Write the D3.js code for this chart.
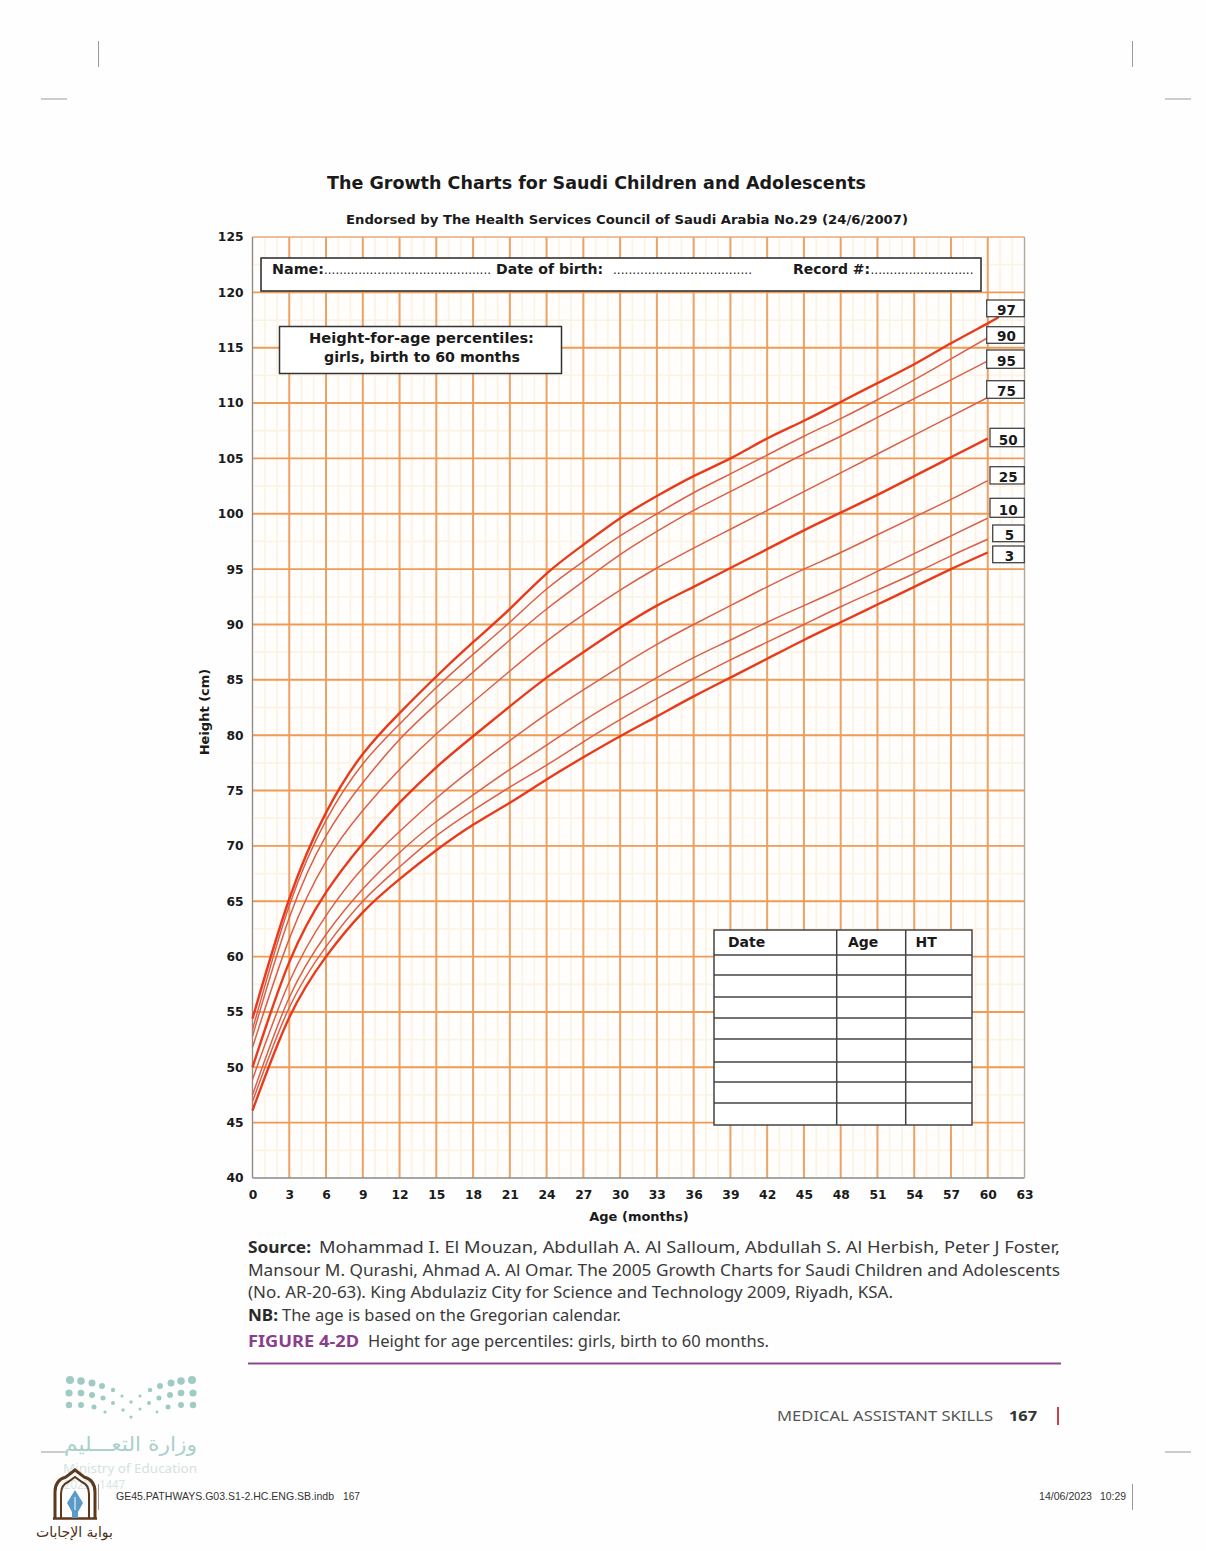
<!DOCTYPE html>
<html><head><meta charset="utf-8">
<script src="https://cdn.jsdelivr.net/npm/d3@7/dist/d3.min.js"></script>
<style>html,body{margin:0;padding:0;background:#fefefe}svg{display:block}</style>
</head><body><svg id="c" width="1206" height="1551"></svg>
<script>
// ---- data ----
const months = [0,3,6,9,12,15,18,21,24,27,30,33,36,39,42,45,48,51,54,57,60,60.9];
const p3  = [46.1,54.5,60.0,64.0,67.0,69.6,71.9,73.9,76.0,78.0,79.9,81.7,83.5,85.2,86.9,88.6,90.2,91.8,93.4,95.0,96.5];
const p5  = [46.9,55.4,60.9,65.0,68.1,70.9,73.2,75.3,77.3,79.4,81.4,83.3,85.1,86.8,88.4,90.0,91.6,93.1,94.6,96.2,97.7];
const p10 = [47.5,56.3,62.0,66.1,69.4,72.2,74.6,76.9,79.1,81.3,83.3,85.2,87.0,88.6,90.2,91.7,93.2,94.8,96.4,98.0,99.6];
const p25 = [48.9,57.7,63.7,68.0,71.3,74.3,77.0,79.5,81.9,84.1,86.2,88.2,90.0,91.7,93.4,95.0,96.5,98.1,99.7,101.3,103.0];
const p50 = [50.0,59.5,65.8,70.2,73.9,77.1,79.9,82.6,85.2,87.5,89.7,91.7,93.4,95.1,96.8,98.5,100.1,101.7,103.4,105.1,106.8];
const p75 = [51.8,61.6,68.6,73.2,76.9,80.1,83.0,85.8,88.5,90.9,93.1,95.1,96.9,98.6,100.3,102.0,103.7,105.4,107.1,108.8,110.5];
const p95 = [52.8,63.5,70.9,75.7,79.6,82.8,85.7,88.6,91.4,93.9,96.3,98.4,100.3,102.0,103.7,105.4,107.0,108.7,110.4,112.1,113.8];
const p90 = [53.4,64.6,72.3,77.4,81.0,84.3,87.3,90.2,93.2,95.7,98.0,100.0,101.9,103.6,105.3,107.0,108.6,110.3,112.1,114.0,115.9];
const p97 = [54.4,65.2,73.0,78.3,82.0,85.3,88.4,91.4,94.6,97.2,99.6,101.6,103.4,105.0,106.8,108.4,110.1,111.8,113.5,115.4,117.2,117.8];
const seriesNames = ["97","90","95","75","50","25","10","5","3"];
const seriesValues = [p97,p90,p95,p75,p50,p25,p10,p5,p3];
const heavySeries = ["97","50","3"];
const xTicks = d3.range(0,64,3);
const yTicks = d3.range(40,126,5);
const minorX = d3.range(0,64,1);
const minorY = d3.range(42.5,125,5);
const tableHeaders = ["Date","Age","HT"];

// ---- layout ----
const svg = d3.select("#c");
const x = d3.scaleLinear().domain([0,63]).range([252.5,1024.5]);
const y = d3.scaleLinear().domain([40,125]).range([1178,237]);
const SANS = "'DejaVu Sans',Verdana,sans-serif", BODY = "'Noto Sans',Roboto,sans-serif", ARIAL="'Liberation Sans',Arial,sans-serif";
function T(px,py,s,o={}){
  const t = svg.append("text").attr("x",px).attr("y",py).text(s)
    .attr("font-family",o.font||SANS).attr("font-size",o.size||13)
    .attr("font-weight",o.weight||"normal").attr("fill",o.fill||"#1a1a1a")
    .attr("text-anchor",o.anchor||"start");
  if(o.len){t.attr("textLength",o.len).attr("lengthAdjust","spacingAndGlyphs");}
  if(o.rotate!==undefined){t.attr("transform",`rotate(${o.rotate} ${px} ${py})`);}
  return t;
}
function R(px,py,w,h,st="#333",sw=1.5){
  return svg.append("rect").attr("x",px).attr("y",py).attr("width",w).attr("height",h)
    .attr("fill","#fff").attr("stroke",st).attr("stroke-width",sw);
}
function L(a,b,c,d,st,sw){
  return svg.append("line").attr("x1",a).attr("y1",b).attr("x2",c).attr("y2",d).attr("stroke",st).attr("stroke-width",sw);
}

// grid
svg.append("rect").attr("x",x(0)).attr("y",y(125)).attr("width",x(63)-x(0)).attr("height",y(40)-y(125)).attr("fill","#fffefc");
const g = svg.append("g");
g.append("g").selectAll("line").data(minorX).join("line")
  .attr("x1",d=>x(d)).attr("x2",d=>x(d)).attr("y1",y(125)).attr("y2",y(40))
  .attr("stroke","#fdf3e4").attr("stroke-width",1.8);
g.append("g").selectAll("line").data(minorY).join("line")
  .attr("x1",x(0)).attr("x2",x(63)).attr("y1",d=>y(d)).attr("y2",d=>y(d))
  .attr("stroke","#fdf3e4").attr("stroke-width",1.8);
g.append("g").selectAll("line").data(xTicks.slice(1,-1)).join("line")
  .attr("x1",d=>x(d)).attr("x2",d=>x(d)).attr("y1",y(125)).attr("y2",y(40))
  .attr("stroke","#eda266").attr("stroke-width",2);
g.append("g").selectAll("line").data(yTicks.slice(1,-1)).join("line")
  .attr("x1",x(0)).attr("x2",x(63)).attr("y1",d=>y(d)).attr("y2",d=>y(d))
  .attr("stroke","#ef9a55").attr("stroke-width",1.9);
L(x(0),y(125),x(63),y(125),"#e9a877",1.3);
L(x(0),y(125),x(0),y(40),"#8a8a8a",1.3);
L(x(0),y(40),x(63),y(40),"#8a8a8a",1.3);
L(x(63),y(125),x(63),y(40),"#b0a8a0",1.3);

// axes
const ax = svg.append("g").attr("transform",`translate(0,${y(40)})`)
  .call(d3.axisBottom(x).tickValues(xTicks).tickSize(0).tickPadding(12).tickFormat(d3.format("d")));
const ay = svg.append("g").attr("transform",`translate(${x(0)},0)`)
  .call(d3.axisLeft(y).tickValues(yTicks).tickSize(0).tickPadding(9).tickFormat(d3.format("d")));
[ax,ay].forEach(a=>{a.select(".domain").remove();
  a.selectAll("text").attr("font-family",SANS).attr("font-weight","bold").attr("font-size",12.3).attr("fill","#1a1a1a");});

// curves
const line = d3.line().x(d=>x(d[0])).y(d=>y(d[1])).curve(d3.curveNatural);
svg.append("g").attr("fill","none").selectAll("path").data(seriesValues).join("path")
  .attr("d",v=>line(v.map((h,i)=>[months[i],h])))
  .attr("stroke",(v,i)=>heavySeries.includes(seriesNames[i])?"#e83a1c":"#d9604a")
  .attr("stroke-width",(v,i)=>heavySeries.includes(seriesNames[i])?2.4:1.5);

// series label boxes (page furniture)
const labelBoxes = [[986.7,300,16.7],[986.7,326.7,16.6],[986.7,350,18.3],[986.7,380.7,17.6],[990,428.3,18.4],[990,466.7,17.3],[990,498.3,19],[992.7,525,16.7],[992.7,546,16.7]];
seriesNames.forEach((n,i)=>{
  const [bx,by,bh]=labelBoxes[i];
  R(bx,by,1024.3-bx,bh,"#444",1.3);
  T((bx+1024.3)/2+1,by+bh-2,n,{size:13.5,weight:"bold",anchor:"middle"});
});

// titles
T(327,189,"The Growth Charts for Saudi Children and Adolescents",{size:18.5,weight:"bold",len:539});
T(346,224,"Endorsed by The Health Services Council of Saudi Arabia No.29 (24/6/2007)",{size:12.5,weight:"bold",len:562});
T(204,712,"Height (cm)",{size:13,weight:"bold",anchor:"middle",rotate:-90}).attr("dy",5);
T(639,1221,"Age (months)",{size:13,weight:"bold",anchor:"middle"});

// name box
R(261,258,720,33,"#333",1.6);
T(272,274,"Name:",{size:14,weight:"bold",len:52});
T(324,274,".".repeat(44),{size:12,len:167});
T(496,274,"Date of birth:",{size:14,weight:"bold",len:107});
T(613,274,".".repeat(36),{size:12,len:139});
T(793,274,"Record #:",{size:14,weight:"bold",len:77});
T(870.5,274,".".repeat(27),{size:12,len:103});

// percentile box
R(279.5,326.5,282,47,"#333",1.5);
T(421.5,343,"Height-for-age percentiles:",{size:14.5,weight:"bold",anchor:"middle",len:225});
T(422,362,"girls, birth to 60 months",{size:14.5,weight:"bold",anchor:"middle",len:196});

// table
const rowEdges=[930,955,975,997,1018,1039,1062,1082,1103,1125], colEdges=[714,836.7,905.7,972];
R(714,930,258,195,"#444",1.5);
rowEdges.slice(1,-1).forEach(r=>L(714,r,972,r,"#444",1.5));
colEdges.slice(1,-1).forEach(c=>L(c,930,c,1125,"#444",1.5));
const headerX=[728,848,915.5];
tableHeaders.forEach((h,i)=>T(headerX[i],946.5,h,{size:14,weight:"bold"}));

// caption text
const tc="#3a3a3a";
T(248,1253,"Source:",{font:BODY,size:16,weight:"bold",len:63,fill:"#2a2a2a"});
T(319,1253,"Mohammad I. El Mouzan, Abdullah A. Al Salloum, Abdullah S. Al Herbish, Peter J Foster,",{font:BODY,size:16,len:741,fill:tc});
T(248,1276,"Mansour M. Qurashi, Ahmad A. Al Omar. The 2005 Growth Charts for Saudi Children and Adolescents",{font:BODY,size:16,len:812,fill:tc});
T(248,1298,"(No. AR-20-63). King Abdulaziz City for Science and Technology 2009, Riyadh, KSA.",{font:BODY,size:16,len:645,fill:tc});
T(248,1321,"NB:",{font:BODY,size:16,weight:"bold",len:30,fill:"#2a2a2a"});
T(282,1321,"The age is based on the Gregorian calendar.",{font:BODY,size:16,len:339,fill:tc});
T(248,1347,"FIGURE 4-2D",{font:BODY,size:16.5,weight:"bold",len:111,fill:"#8a3f8c"});
T(368,1347,"Height for age percentiles: girls, birth to 60 months.",{font:BODY,size:16.5,len:401,fill:tc});
L(248,1363.5,1061,1363.5,"#8a4a90",2.2);
T(777,1421,"MEDICAL ASSISTANT SKILLS",{font:BODY,size:13.5,len:216,fill:"#555"});
T(1009,1421,"167",{font:BODY,size:14,weight:"bold",len:28,fill:"#333"});
L(1058,1407,1058,1425,"#c8444a",2);

// crop marks
[[98.5,41,98.5,67],[1132.5,41,1132.5,67],[41,99,67,99],[1165,99,1191,99],[41,1452,67,1452],[1165,1452,1191,1452],[1132.5,1484,1132.5,1510],[98.5,1484,98.5,1510]]
  .forEach(m=>L(m[0],m[1],m[2],m[3],"#9a9a9a",1));
T(116,1500,"GE45.PATHWAYS.G03.S1-2.HC.ENG.SB.indb",{font:ARIAL,size:10.5,len:218,fill:"#333"});
T(343,1500,"167",{font:ARIAL,size:10.5,len:17,fill:"#333"});
T(1039,1500,"14/06/2023",{font:ARIAL,size:10.5,len:53,fill:"#333"});
T(1100,1500,"10:29",{font:ARIAL,size:10.5,len:26,fill:"#333"});

// ministry logo
const logoDots=[[70,1380,4],[81,1381,3.8],[92,1383,3.5],[102,1386,3],[113,1390,2.2],[150,1390,2.2],[160,1386,3],[171,1383,3.5],[181,1381,3.8],[192,1380,4],
 [69,1393,3.6],[81,1393,3.3],[92,1395,3],[103,1398,2.5],[122,1396,1.6],[140,1396,1.6],[159,1398,2.5],[170,1395,3],[181,1393,3.3],[193,1393,3.6],
 [69,1405,3.2],[81,1405,3],[94,1407,2.5],[105,1412,1.6],[113,1403,2],[123,1410,1.7],[131,1402,1.7],[140,1409,1.5],[149,1403,2],[157,1412,1.4],[168,1407,2.5],[181,1405,3],[193,1405,3.2],[131,1417,1.6]];
svg.append("g").selectAll("circle").data(logoDots).join("circle")
  .attr("cx",d=>d[0]).attr("cy",d=>d[1]).attr("r",d=>d[2]).attr("fill","#9fcbc4");
T(197,1451,"وزارة التعـــليم",{font:SANS,size:20,len:133,fill:"#a9d0ca"}).attr("direction","rtl");
T(63,1473,"Ministry of Education",{font:BODY,size:13,len:134,fill:"#d3e3e1"});
T(64,1489,"2023 - 1447",{font:BODY,size:12,len:61,fill:"#d9e5e3"});

// answer-portal badge
const br="#5d3a1e";
svg.append("path").attr("fill","none").attr("stroke",br).attr("stroke-width",3)
  .attr("d","M55 1519V1492Q55 1480 66 1477L75 1470L84 1477Q95 1480 95 1492V1519");
svg.append("path").attr("fill","none").attr("stroke",br).attr("stroke-width",2)
  .attr("d","M61 1519V1494Q61 1485 68 1482L75 1477L82 1482Q89 1485 89 1494V1519");
L(53,1518.5,97,1518.5,br,2.5);
svg.append("path").attr("fill","#5b9bc9").attr("d","M75 1490L83 1503L78 1512V1518H72V1512L67 1503Z");
L(75,1497,75,1510,"#fff",1);
T(113,1537,"بوابة الإجابات",{font:SANS,size:14,len:77,fill:"#4a2e16"}).attr("direction","rtl");
</script></body></html>
